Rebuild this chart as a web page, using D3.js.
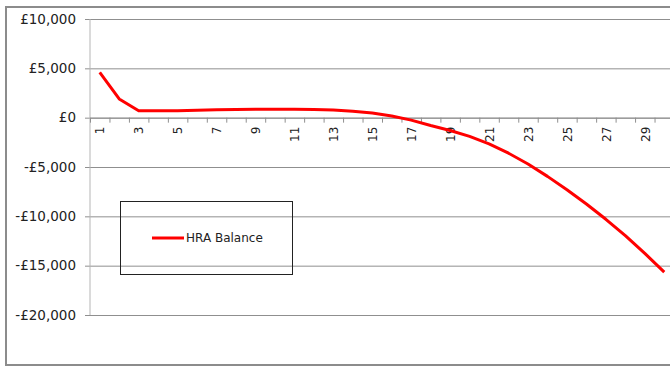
<!DOCTYPE html>
<html>
<head>
<meta charset="utf-8">
<script src="https://cdn.jsdelivr.net/npm/d3@7"></script>
<style>
  body { margin: 0; background: #fff; }
  svg { display: block; }
</style>
</head>
<body>
<div id="chart"></div>
<script>
// years 1..30
const years = d3.range(1, 31);
const hraBalance = [
    4600, 1900, 700, 700, 700, 750, 800, 830, 850, 850,
    850, 830, 780, 660, 470, 170, -250, -800, -1300, -1900,
    -2650, -3600, -4700, -5950, -7300, -8750, -10300, -11950, -13750, -15650
];
const yTicks = [10000, 5000, 0, -5000, -10000, -15000, -20000];
const xLabels = years.filter(d => d % 2 === 1);
const seriesName = "HRA Balance";

const width = 670;
const height = 367;
const plot = {left: 90, right: 674, top: 19, bottom: 315};

const svg = d3.select("#chart")
    .append("svg")
    .attr("width", width)
    .attr("height", height);

// outer chart border
svg.append("rect")
    .attr("x", 6).attr("y", 7)
    .attr("width", 700).attr("height", 358)
    .attr("fill", "none")
    .attr("stroke", "#8c8c8c")
    .attr("stroke-width", 2);

const x = d3.scaleLinear().domain([0.5, 30.5]).range([plot.left, plot.right]);
const y = d3.scaleLinear().domain([-20000, 10000]).range([plot.bottom, plot.top]);

const fmt = v => (v < 0 ? "-" : "") + "£" + d3.format(",")(Math.abs(v));

// horizontal gridlines + y labels
const yAxis = svg.append("g")
    .attr("transform", `translate(${plot.left},0)`)
    .call(d3.axisLeft(y).tickValues(yTicks).tickFormat(fmt).tickSize(-(plot.right - plot.left)).tickPadding(14));
yAxis.select(".domain").remove();
yAxis.selectAll(".tick line")
    .attr("x1", -5)
    .attr("stroke", "#8f8f8f");
yAxis.selectAll(".tick text")
    .attr("font-family", "DejaVu Sans, sans-serif")
    .attr("font-size", 13.5)
    .attr("fill", "#222");

// vertical axis line
svg.append("line")
    .attr("x1", plot.left).attr("x2", plot.left)
    .attr("y1", plot.top).attr("y2", plot.bottom)
    .attr("stroke", "#b5b5b5");

// category axis at zero
const xAxisG = svg.append("g").attr("transform", `translate(0,${y(0)})`);
xAxisG.call(d3.axisBottom(x).tickValues(d3.range(0.5, 31, 1)).tickFormat("").tickSize(5).tickSizeOuter(0));
xAxisG.select(".domain").attr("stroke", "#8f8f8f");
xAxisG.selectAll(".tick line").attr("stroke", "#8f8f8f");

const labels = svg.append("g")
    .attr("transform", `translate(0,${y(0)})`)
    .call(d3.axisBottom(x).tickValues(xLabels).tickSize(0).tickFormat(d3.format("d")));
labels.select(".domain").remove();
labels.selectAll(".tick text")
    .attr("font-family", "DejaVu Sans, sans-serif")
    .attr("font-size", 12)
    .attr("fill", "#222")
    .attr("text-anchor", "end")
    .attr("dy", "0.35em")
    .attr("transform", "translate(0,9) rotate(-90)")
    .attr("x", 0).attr("y", 0);

// series line
const line = d3.line()
    .x((d, i) => x(years[i]))
    .y(d => y(d));

svg.append("path")
    .datum(hraBalance)
    .attr("d", line)
    .attr("fill", "none")
    .attr("stroke", "#ff0000")
    .attr("stroke-width", 3)
    .attr("stroke-linejoin", "round");

// legend (no fill: the gridline shows through, as in the original)
const legend = svg.append("g");
legend.append("rect")
    .attr("x", 120.5).attr("y", 201.5)
    .attr("width", 172).attr("height", 73)
    .attr("fill", "none")
    .attr("stroke", "#222");
legend.append("line")
    .attr("x1", 152).attr("x2", 184)
    .attr("y1", 238).attr("y2", 238)
    .attr("stroke", "#ff0000")
    .attr("stroke-width", 3);
legend.append("text")
    .attr("x", 186).attr("y", 238)
    .attr("dy", "0.35em")
    .attr("font-family", "DejaVu Sans, sans-serif")
    .attr("font-size", 12)
    .attr("fill", "#222")
    .text(seriesName);
</script>
</body>
</html>
